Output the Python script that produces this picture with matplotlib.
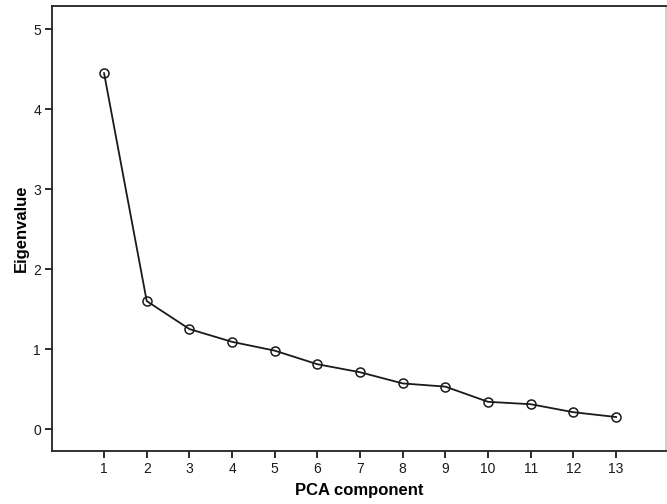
import numpy as np
import matplotlib
matplotlib.use("Agg")
import matplotlib.pyplot as plt

plt.rcParams['font.family'] = ['Liberation Sans', 'DejaVu Sans']

# scree plot values
components = [1, 2, 3, 4, 5, 6, 7, 8, 9, 10, 11, 12, 13]
eigenvalues = [4.45, 1.60, 1.25, 1.09, 0.98, 0.81, 0.71, 0.57, 0.53, 0.34, 0.31, 0.21, 0.15]

fig = plt.figure(figsize=(6.67, 5.04), dpi=100)
ax = fig.add_axes([52 / 667, 1 - 451 / 504, (666 - 52) / 667, (451 - 6) / 504])

ax.plot(components, eigenvalues, color='#1a1a1a', lw=1.3,
        marker='o', ms=6.5, mfc='none', mec='#1a1a1a', mew=1.1)

ax.set_xlim(-0.22, 14.17)
ax.set_ylim(-0.275, 5.29)
ax.set_xticks(components)
ax.set_yticks([0, 1, 2, 3, 4, 5])
ax.tick_params(direction='out', length=5, width=1.3, labelsize=10, colors='#1a1a1a', pad=3)

for s in ax.spines.values():
    s.set_linewidth(1.3)
    s.set_color('#222222')
ax.spines['right'].set_color('#cccccc')

ax.set_xlabel('PCA component', fontsize=12, fontweight='bold', labelpad=5)
ax.set_ylabel('Eigenvalue', fontsize=12, fontweight='bold', labelpad=3)

fig.savefig('out.png', dpi=100)
